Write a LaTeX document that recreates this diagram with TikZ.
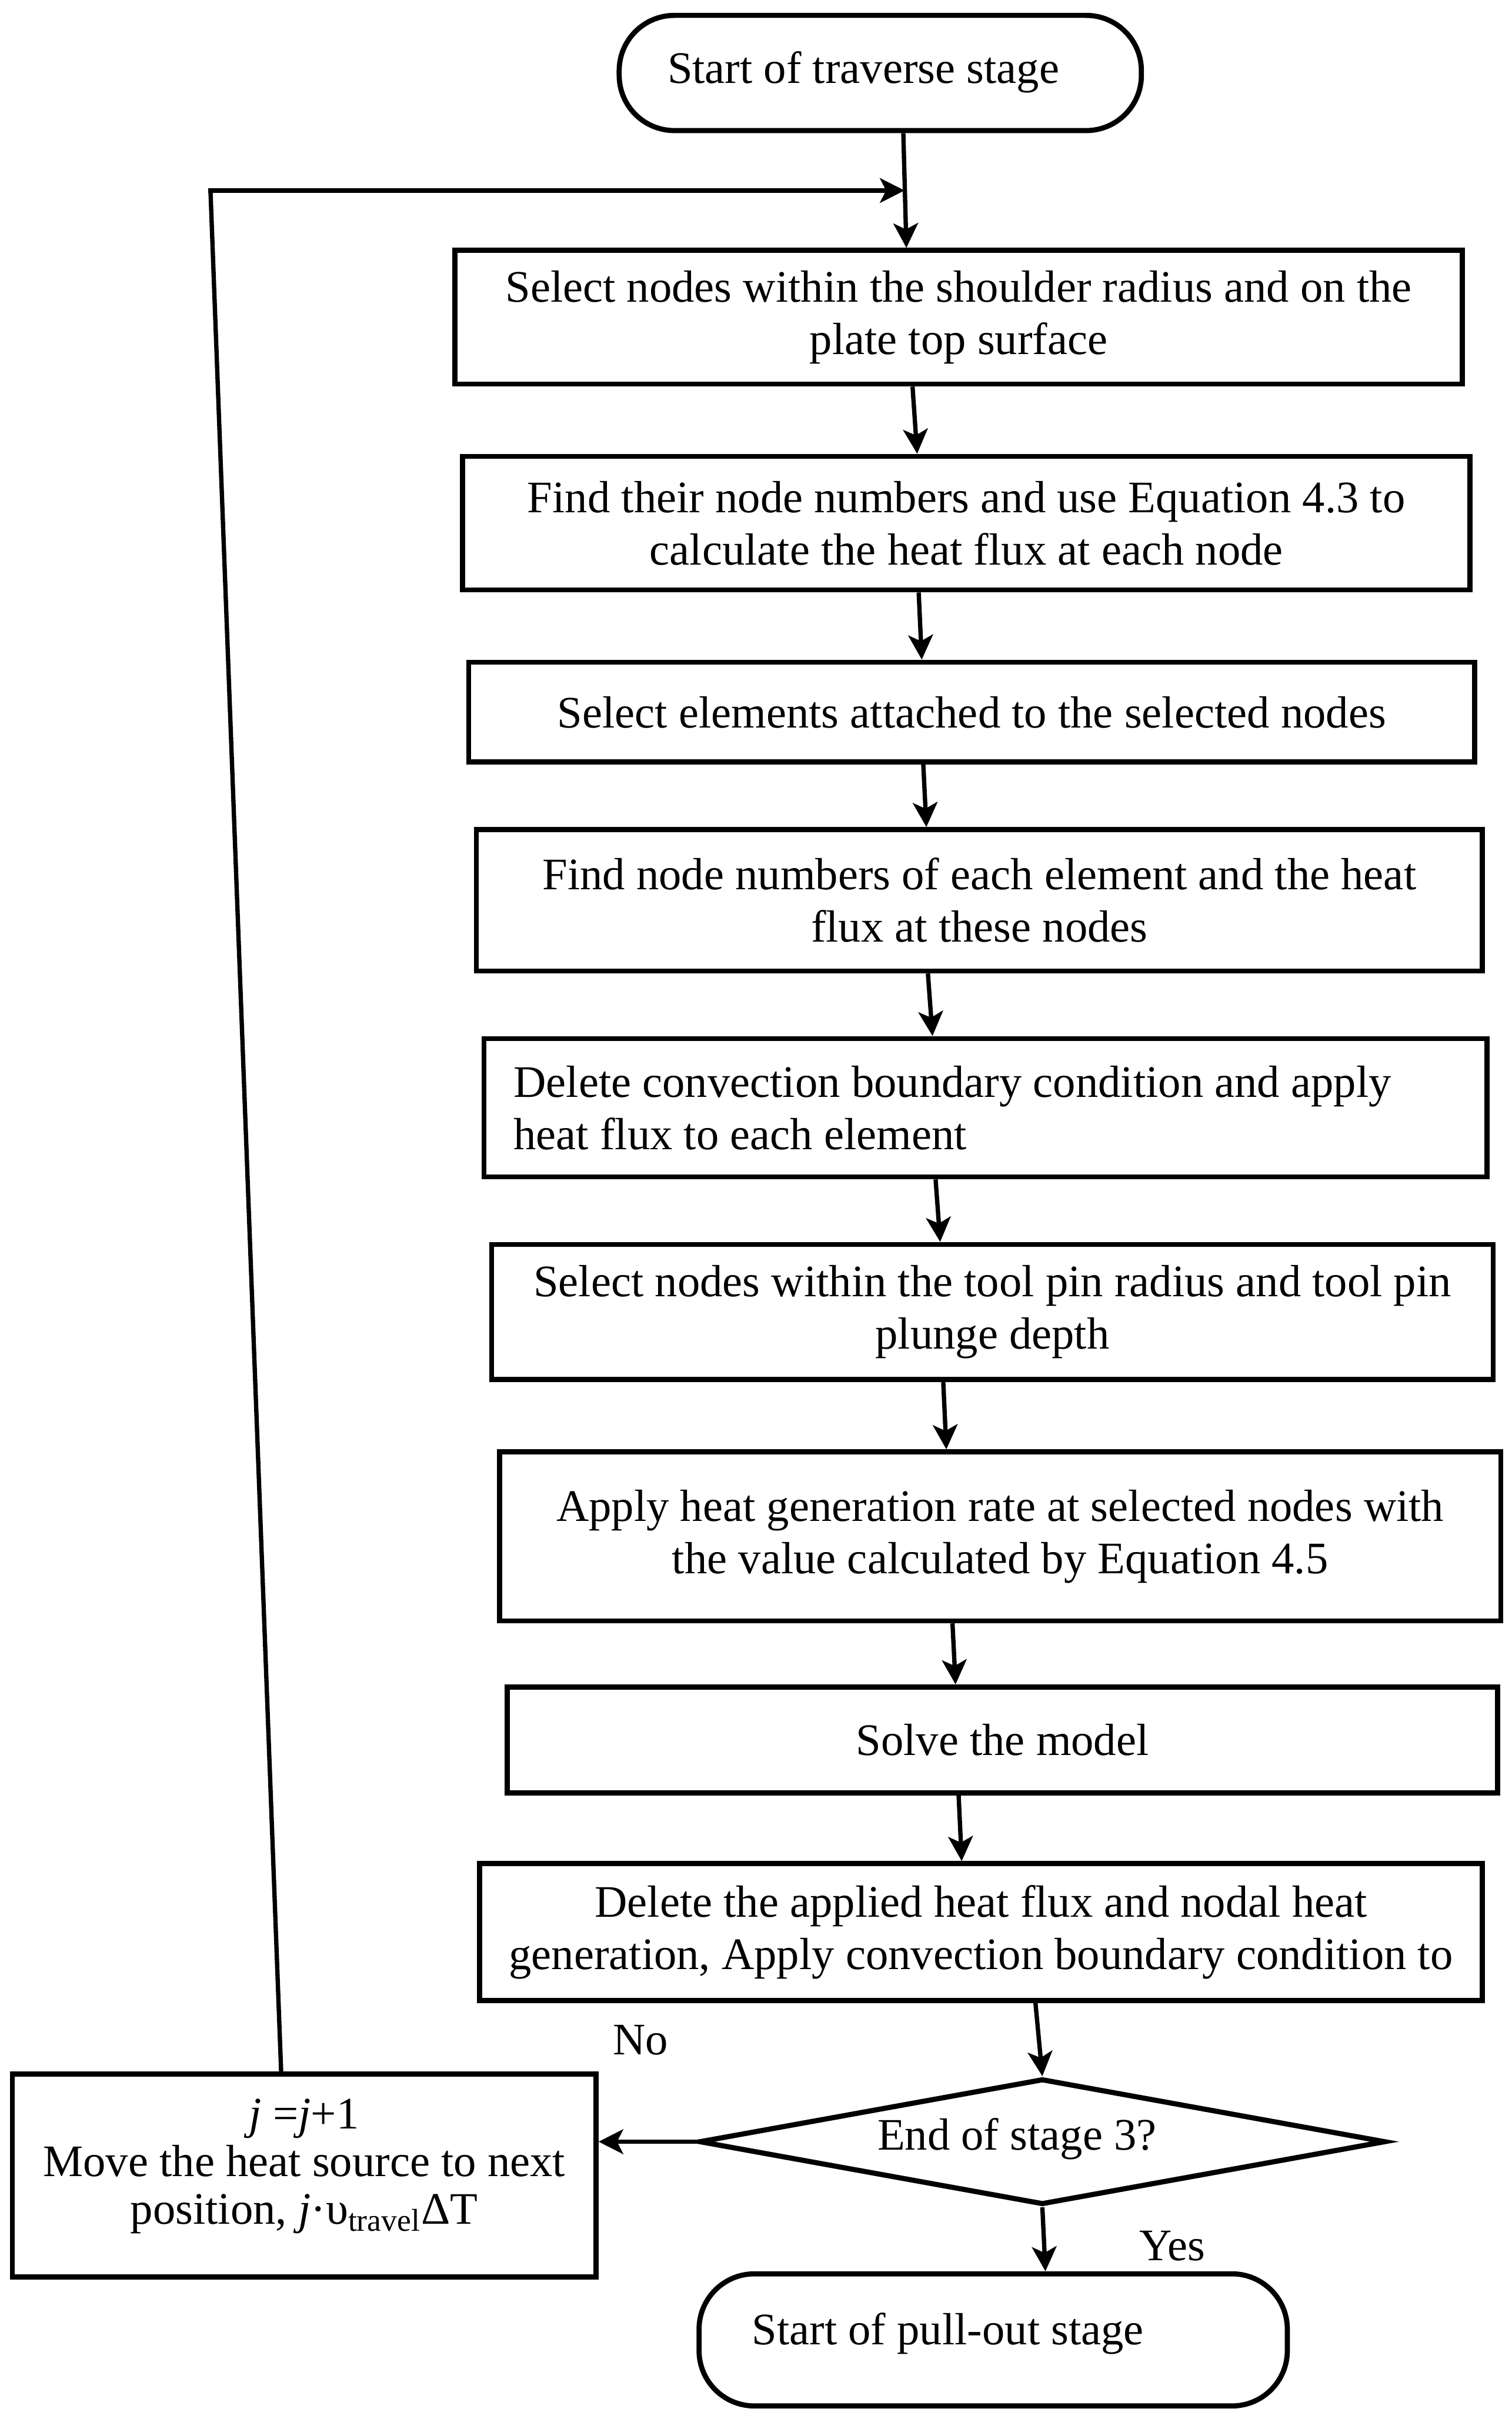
\documentclass[tikz,border=0pt]{standalone}
\usepackage{fontspec}
\setmainfont{Liberation Serif}
\usetikzlibrary{arrows.meta,shapes.geometric,calc}
\begin{document}
\begin{tikzpicture}[x=0.02cm,y=-0.02cm,
  every node/.style={font=\fontsize{16.7}{19.4}\selectfont},
  box/.style={draw,line width=1.9pt,rectangle,align=center,inner sep=0pt},
  term/.style={draw,line width=1.9pt,rectangle,rounded corners=0.72cm,inner sep=0pt},
  decision/.style={draw,line width=1.9pt,diamond,inner sep=0pt},
  conn/.style={line width=1.6pt},
  arr/.style={line width=1.6pt,-{Stealth[length=0.32cm,width=0.32cm,inset=0.08cm]}}]
\useasboundingbox (0,0) rectangle (984,1568);

% terminals
\node[term,minimum width=6.8cm,minimum height=1.5cm] (t1) at (573,47.5) {};
\node (t1l) at (562,47) {Start of traverse stage};

% process boxes
\node[box,minimum width=13.12cm,minimum height=1.74cm] (b1) at (624,206.5)
  {Select nodes within the shoulder radius and on the\\plate top surface};
\node[box,minimum width=13.12cm,minimum height=1.74cm] (b2) at (629,340.5)
  {Find their node numbers and use Equation 4.3 to\\calculate the heat flux at each node};
\node[box,minimum width=13.1cm,minimum height=1.3cm] (b3) at (632.5,463.5)
  {Select elements attached to the selected nodes};
\node[box,minimum width=13.1cm,minimum height=1.84cm] (b4) at (637.5,586)
  {Find node numbers of each element and the heat\\flux at these nodes};
\node[box,minimum width=13.06cm,minimum height=1.8cm] (b5) at (641.5,721) {};
\node[anchor=west,align=left,inner sep=0pt] (b5l) at (334,721)
  {Delete convection boundary condition and apply\\heat flux to each element};
\node[box,minimum width=13.04cm,minimum height=1.76cm] (b6) at (646,854)
  {Select nodes within the tool pin radius and tool pin\\plunge depth};
\node[box,minimum width=13.04cm,minimum height=2.2cm] (b7) at (651,1000)
  {Apply heat generation rate at selected nodes with\\the value calculated by Equation 4.5};
\node[box,minimum width=12.9cm,minimum height=1.38cm] (b8) at (652.5,1132.5)
  {Solve the model};
\node[box,minimum width=13.06cm,minimum height=1.78cm] (b9) at (638.5,1257.5)
  {Delete the applied heat flux and nodal heat\\generation, Apply convection boundary condition to};

% decision
\node[decision,minimum width=8.94cm,minimum height=1.64cm] (d) at (678.5,1394) {};
\node (dl) at (662,1392) {End of stage 3?};

% loop box
\node[box,minimum width=7.6cm,minimum height=2.64cm] (lb) at (198,1416) {};
\node[align=center,inner sep=0pt,font=\fontsize{16.7}{17.6}\selectfont] (lbl) at (198,1410)
  {\textit{j} =\textit{j}+1\\Move the heat source to next\\position, \textit{j}·υ\textsubscript{travel}ΔT};

% final terminal
\node[term,minimum width=7.66cm,minimum height=1.72cm] (t2) at (646.5,1523) {};
\node (t2l) at (617,1519) {Start of pull-out stage};

% labels
\node (no) at (417,1328) {No};
\node (yes) at (763,1462) {Yes};

% main flow
\draw[arr] ($(t1.south)+(15,0)$) -- ($(b1.north)+(-34,0)$);
\draw[arr] ($(b1.south)+(-30,0)$) -- ($(b2.north)+(-32,0)$);
\draw[arr] ($(b2.south)+(-31,0)$) -- ($(b3.north)+(-32.5,0)$);
\draw[arr] ($(b3.south)+(-31.5,0)$) -- ($(b4.north)+(-34.5,0)$);
\draw[arr] ($(b4.south)+(-33.5,0)$) -- ($(b5.north)+(-34.5,0)$);
\draw[arr] ($(b5.south)+(-32.5,0)$) -- ($(b6.north)+(-34,0)$);
\draw[arr] ($(b6.south)+(-32,0)$) -- ($(b7.north)+(-35,0)$);
\draw[arr] ($(b7.south)+(-31,0)$) -- ($(b8.north)+(-30.5,0)$);
\draw[arr] ($(b8.south)+(-28.5,0)$) -- ($(b9.north)+(-12.5,0)$);
\draw[arr] ($(b9.south)+(35.5,0)$) -- (d.north);
\draw[arr] (d.south) -- ($(t2.north)+(34,0)$);
\draw[arr] (d.west) -- (d.west -| lb.east);

% loop back
\coordinate (lc) at (137,124);
\coordinate (jn) at (588.8,124);
\draw[conn] ($(lb.north)+(-15,0)$) -- (lc);
\draw[arr] ([xshift=-0.8pt]lc) -- (jn);
\end{tikzpicture}
\end{document}
